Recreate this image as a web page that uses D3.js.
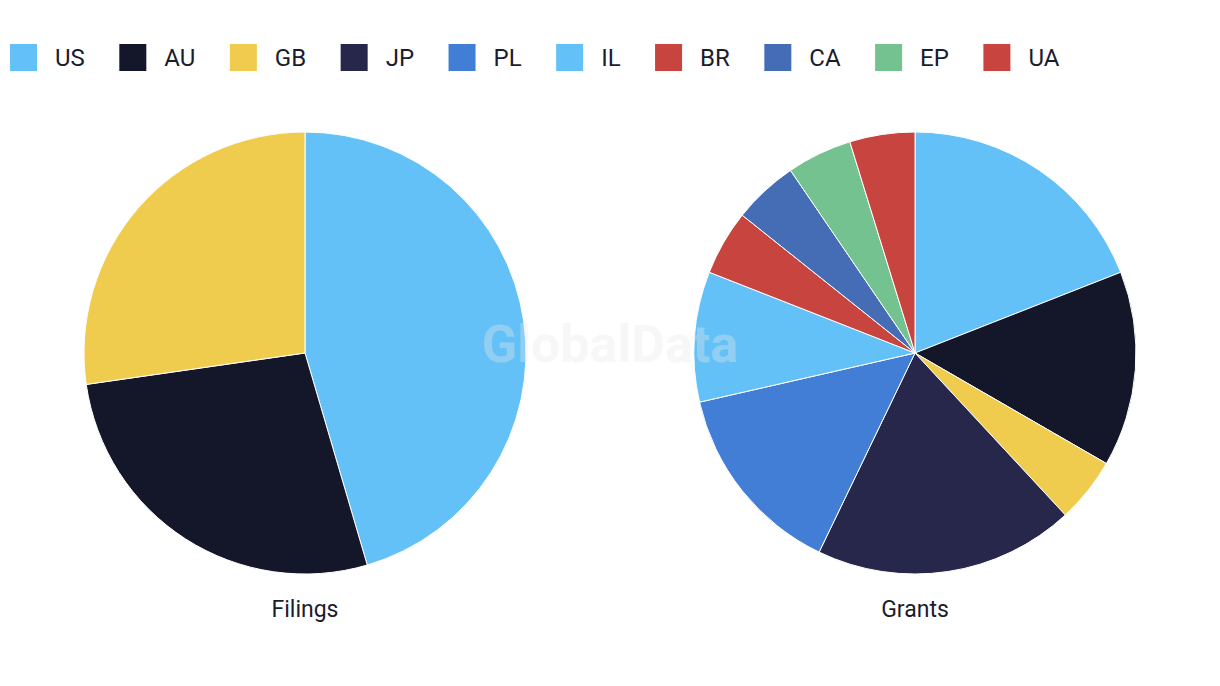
<!DOCTYPE html>
<html><head><meta charset="utf-8">
<script src="https://cdn.jsdelivr.net/npm/d3@7"></script>
<style>body{margin:0;background:#fff;} svg{display:block;}</style>
</head><body>
<svg id="chart" width="1220" height="686"></svg>
<script>
const categories = ["US","AU","GB","JP","PL","IL","BR","CA","EP","UA"];
const colors = ["#64C1F8","#14162A","#F0CC4E","#27274B","#427DD6","#64C1F8","#C8443F","#456DB5","#74C290","#C8443F"];
const filingsValues = [5,3,3,0,0,0,0,0,0,0];
const grantsValues = [4,3,1,4,3,2,1,1,1,1];
const pieTitles = ["Filings","Grants"];

const svg = d3.select("#chart");
const color = d3.scaleOrdinal().domain(categories).range(colors);
const font = "Roboto, 'Liberation Sans', sans-serif";
const textColor = "#1b1c2e";

// legend
const legend = svg.append("g");
let lx = 10;
categories.forEach((c,i)=>{
  const g = legend.append("g").attr("transform",`translate(${lx},0)`);
  g.append("rect").attr("x",0).attr("y",44).attr("width",27).attr("height",27).attr("fill",color(c));
  const t = g.append("text").attr("x",45).attr("y",57.5).attr("dy","0.35em")
    .attr("font-family",font).attr("font-size",24).attr("fill",textColor).text(c);
  const w = t.node().getComputedTextLength();
  lx += 45 + w + 34.5;
});

const pie = d3.pie().sort(null).value(d=>d.v);
const arc = d3.arc().innerRadius(0).outerRadius(221);
const centers = [305,915];
[filingsValues, grantsValues].forEach((vals,k)=>{
  const data = categories.map((c,i)=>({c, v: vals[i]}));
  const g = svg.append("g").attr("transform",`translate(${centers[k]},353)`);
  g.selectAll("path").data(pie(data).filter(d=>d.data.v>0)).join("path")
    .attr("d",arc).attr("fill",d=>color(d.data.c))
    .attr("stroke","#fff").attr("stroke-width",1);
  svg.append("text").attr("x",centers[k]).attr("y",609).attr("dy","0.35em")
    .attr("text-anchor","middle").attr("font-family",font).attr("font-size",23)
    .attr("fill",textColor).text(pieTitles[k]);
});

svg.append("text").attr("x",610).attr("y",344).attr("dy","0.35em").attr("text-anchor","middle")
  .attr("font-family",font).attr("font-weight",700).attr("font-size",52)
  .attr("fill","#e8e8e8").attr("fill-opacity",0.35).text("GlobalData");
</script>
</body></html>
